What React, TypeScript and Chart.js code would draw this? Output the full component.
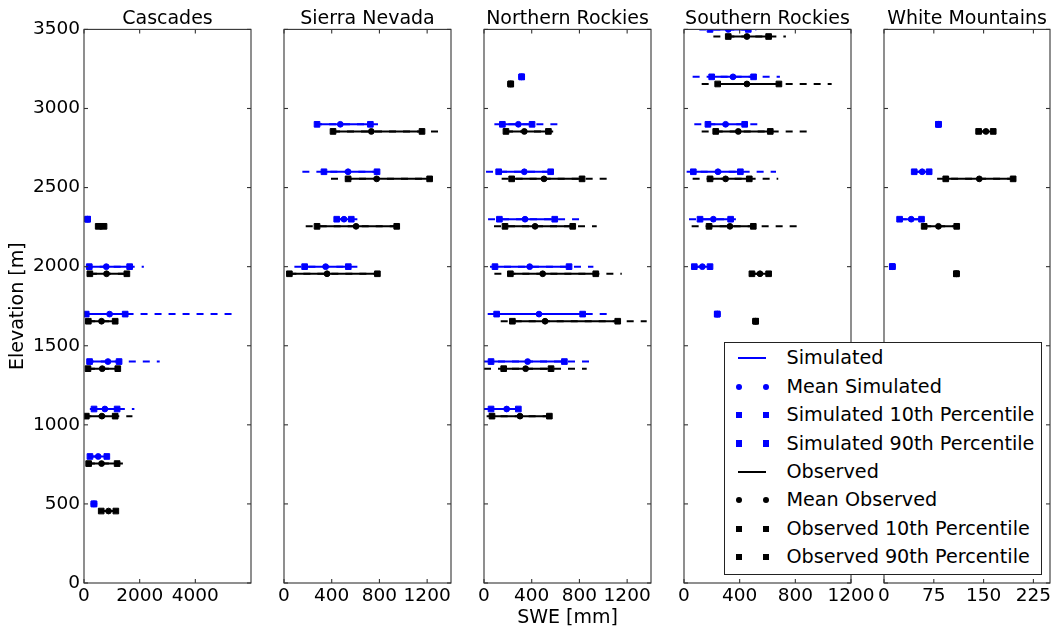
import React, { useEffect, useRef } from 'react';
import { Chart, registerables } from 'chart.js';

Chart.register(...registerables);

const FONT = "'DejaVu Sans', 'Liberation Sans', sans-serif";
Chart.defaults.font.family = FONT;
Chart.defaults.color = '#000';

// Shared vertical axis
const yTicks = [0, 500, 1000, 1500, 2000, 2500, 3000, 3500];
const yMax = 3500;
// observed rows are drawn slightly below their simulated band
const obsOffset = 45;

// Each row: [min, p10, mean, p90, max] SWE (mm)
const cascadesElev = [2300, 2000, 1700, 1400, 1100, 800, 500];
const cascadesSim = [
  [130, 130, 130, 130, 130],
  [60, 190, 800, 1640, 2150],
  [20, 80, 920, 1480, 5400],
  [100, 200, 860, 1260, 2720],
  [210, 360, 750, 1190, 1810],
  [214, 214, 510, 820, 820],
  [357, 357, 357, 357, 357],
];
const cascadesObs = [
  [500, 510, 610, 720, 720],
  [210, 210, 810, 1540, 1540],
  [150, 155, 630, 1120, 1120],
  [140, 143, 655, 1214, 1214],
  [10, 83, 643, 1120, 1740],
  [140, 167, 631, 1190, 1400],
  [619, 619, 881, 1143, 1143],
];
const cascadesXTicks = [0, 2000, 4000];
const cascadesXMax = 6000;

const sierraElev = [2900, 2600, 2300, 2000];
const sierraSim = [
  [260, 277, 472, 724, 827],
  [154, 335, 537, 780, 780],
  [442, 442, 503, 564, 615],
  [87, 173, 349, 539, 673],
];
const sierraObs = [
  [411, 411, 732, 1157, 1300],
  [394, 537, 777, 1221, 1221],
  [182, 277, 604, 945, 945],
  [45, 45, 361, 783, 783],
];
const sierraXTicks = [0, 400, 800, 1200];
const sierraXMax = 1400;

const northElev = [3200, 2900, 2600, 2300, 2000, 1700, 1400, 1100];
const northSim = [
  [316, 316, 316, 316, 316],
  [87, 154, 288, 403, 643],
  [17, 123, 338, 559, 596],
  [34, 129, 344, 593, 833],
  [50, 92, 383, 713, 917],
  [31, 106, 461, 827, 1043],
  [0, 59, 366, 674, 917],
  [0, 59, 190, 288, 288],
];
const northObs = [
  [224, 224, 224, 224, 224],
  [184, 184, 338, 540, 580],
  [148, 232, 503, 822, 1051],
  [84, 176, 428, 744, 945],
  [87, 221, 492, 937, 1155],
  [140, 238, 512, 1121, 1364],
  [0, 165, 349, 562, 861],
  [22, 67, 302, 548, 601],
];
const northXTicks = [0, 400, 800, 1200];
const northXMax = 1400;

const southElev = [3500, 3200, 2900, 2600, 2300, 2000, 1700];
const southSim = [
  [110, 187, 318, 462, 520],
  [62, 199, 352, 500, 689],
  [74, 172, 299, 436, 539],
  [19, 67, 244, 405, 661],
  [36, 115, 211, 335, 373],
  [74, 74, 132, 187, 187],
  [239, 239, 239, 239, 239],
];
const southObs = [
  [211, 318, 452, 608, 732],
  [127, 242, 452, 682, 1061],
  [127, 228, 390, 620, 898],
  [62, 187, 299, 469, 677],
  [55, 180, 330, 498, 833],
  [488, 488, 546, 608, 608],
  [515, 515, 515, 515, 515],
];
const southXTicks = [0, 400, 800, 1200];
const southXMax = 1200;

const whiteElev = [2900, 2600, 2300, 2000];
const whiteSim = [
  [82, 82, 82, 82, 82],
  [45.5, 45.5, 57.5, 68, 68],
  [23.5, 23.5, 41, 56.5, 56.5],
  [12.5, 12.5, 12.5, 12.5, 12.5],
];
const whiteObs = [
  [142.5, 142.5, 153.5, 164.5, 164.5],
  [80, 93, 143.5, 194.5, 202.5],
  [60.5, 60.5, 82, 109.5, 109.5],
  [109, 109, 109, 109, 109],
];
const whiteXTicks = [0, 75, 150, 225];
const whiteXMax = 250;

const legendLabels = [
  'Simulated',
  'Mean Simulated',
  'Simulated 10th Percentile',
  'Simulated 90th Percentile',
  'Observed',
  'Mean Observed',
  'Observed 10th Percentile',
  'Observed 90th Percentile',
];

const panels = [
  { name: 'Cascades', elev: cascadesElev, sim: cascadesSim, obs: cascadesObs, ticks: cascadesXTicks, xMax: cascadesXMax },
  { name: 'Sierra Nevada', elev: sierraElev, sim: sierraSim, obs: sierraObs, ticks: sierraXTicks, xMax: sierraXMax },
  { name: 'Northern Rockies', elev: northElev, sim: northSim, obs: northObs, ticks: northXTicks, xMax: northXMax },
  { name: 'Southern Rockies', elev: southElev, sim: southSim, obs: southObs, ticks: southXTicks, xMax: southXMax },
  { name: 'White Mountains', elev: whiteElev, sim: whiteSim, obs: whiteObs, ticks: whiteXTicks, xMax: whiteXMax },
];

// layout (pixels)
const W = 1055;
const H = 633;
const PANEL_LEFT = [84, 284, 484, 684, 884];
const PANEL_W = 167;
const BLUE = '#0000ff';
const BLACK = '#000000';

type Row = number[];

function buildDatasets(elev: number[], sim: Row[], obs: Row[]) {
  const obsElev = elev.map((e) => e - obsOffset);
  const seg = (rows: Row[], e: number[], a: number, b: number) =>
    rows.flatMap((r, i) => [
      { x: r[a], y: e[i] },
      { x: r[b], y: e[i] },
      { x: NaN, y: NaN },
    ]);
  const pts = (rows: Row[], e: number[], k: number) => rows.map((r, i) => ({ x: r[k], y: e[i] }));
  const lineDs = (label: string, data: any[], color: string, dash: number[], order: number) => ({
    label,
    data,
    showLine: true,
    borderColor: color,
    backgroundColor: color,
    borderWidth: 2,
    borderDash: dash,
    pointRadius: 0,
    spanGaps: false,
    order,
    clip: 0,
  });
  const ptDs = (label: string, data: any[], color: string, style: string, r: number, order: number) => ({
    label,
    data,
    showLine: false,
    pointStyle: style,
    pointRadius: r,
    pointBackgroundColor: color,
    pointBorderColor: color,
    pointBorderWidth: 1,
    order,
    clip: 0,
  });
  return [
    lineDs('Simulated extremes', seg(sim, elev, 0, 4), BLUE, [7, 7], 6),
    lineDs('Observed extremes', seg(obs, obsElev, 0, 4), BLACK, [7, 7], 5),
    lineDs('Simulated', seg(sim, elev, 1, 3), BLUE, [], 4),
    lineDs('Observed', seg(obs, obsElev, 1, 3), BLACK, [], 3),
    ptDs('Mean Simulated', pts(sim, elev, 2), BLUE, 'circle', 2.9, 2),
    ptDs('Simulated 10th Percentile', pts(sim, elev, 1), BLUE, 'rect', 4, 2),
    ptDs('Simulated 90th Percentile', pts(sim, elev, 3), BLUE, 'rect', 4, 2),
    ptDs('Mean Observed', pts(obs, obsElev, 2), BLACK, 'circle', 2.9, 1),
    ptDs('Observed 10th Percentile', pts(obs, obsElev, 1), BLACK, 'rect', 4, 1),
    ptDs('Observed 90th Percentile', pts(obs, obsElev, 3), BLACK, 'rect', 4, 1),
  ];
}

const framePlugin = {
  id: 'mplFrame',
  afterDraw(chart: any, _args: any, opts: any) {
    const { ctx, chartArea } = chart;
    const { left, right, top, bottom } = chartArea;
    const xs = chart.scales.x;
    const ys = chart.scales.y;
    ctx.save();
    ctx.strokeStyle = '#333';
    ctx.lineWidth = 1.1;
    const line = (x1: number, y1: number, x2: number, y2: number) => {
      ctx.beginPath();
      ctx.moveTo(x1, y1);
      ctx.lineTo(x2, y2);
      ctx.stroke();
    };
    const tl = 4;
    (opts.xTicks || []).forEach((v: number) => {
      const px = xs.getPixelForValue(v);
      line(px, bottom, px, bottom - tl);
      line(px, top, px, top + tl);
    });
    yTicks.forEach((v) => {
      const py = ys.getPixelForValue(v);
      line(left, py, left + tl, py);
      line(right, py, right - tl, py);
    });
    ctx.strokeRect(left, top, right - left, bottom - top);
    ctx.restore();
  },
};

function Panel({ idx }: { idx: number }) {
  const ref = useRef<HTMLCanvasElement>(null);
  useEffect(() => {
    const p = panels[idx];
    const L = PANEL_LEFT[idx];
    const first = idx === 0;
    const chart = new Chart(ref.current as HTMLCanvasElement, {
      type: 'scatter',
      data: { datasets: buildDatasets(p.elev, p.sim, p.obs) as any },
      plugins: [framePlugin],
      options: {
        animation: false,
        responsive: false,
        events: [],
        devicePixelRatio: 1,
        layout: {
          padding: { left: first ? 0 : L, right: W - (L + PANEL_W), top: 0, bottom: 0 },
        },
        plugins: {
          legend: { display: false },
          tooltip: { enabled: false },
          title: {
            display: true,
            text: p.name,
            fullSize: false,
            color: '#000',
            font: { size: 19, lineHeight: 1, weight: 'normal', family: FONT },
            padding: { top: 10, bottom: 0.4 },
          },
          mplFrame: { xTicks: p.ticks },
        } as any,
        scales: {
          x: {
            type: 'linear',
            min: 0,
            max: p.xMax,
            afterBuildTicks: (s: any) => {
              s.ticks = p.ticks.map((v) => ({ value: v }));
            },
            afterFit: (s: any) => {
              s.height = 50;
            },
            grid: { display: false, drawTicks: false },
            border: { display: false },
            ticks: {
              autoSkip: false,
              maxRotation: 0,
              padding: 2,
              color: '#000',
              font: { size: 18.5, family: FONT },
              callback: (v: any) => String(v),
            },
            title: {
              display: idx === 2,
              text: 'SWE [mm]',
              color: '#000',
              font: { size: 19, family: FONT },
              padding: { top: 0, bottom: 4 },
            },
          },
          y: {
            type: 'linear',
            min: 0,
            max: yMax,
            afterBuildTicks: (s: any) => {
              s.ticks = yTicks.map((v) => ({ value: v }));
            },
            afterFit: (s: any) => {
              s.width = first ? L : 0;
            },
            grid: { display: false, drawTicks: false },
            border: { display: false },
            ticks: {
              display: first,
              autoSkip: false,
              padding: 4,
              color: '#000',
              font: { size: 18.5, family: FONT },
              callback: (v: any) => String(v),
            },
            title: {
              display: first,
              text: 'Elevation [m]',
              color: '#000',
              font: { size: 19, family: FONT },
              padding: { top: 6.4, bottom: 0 },
            },
          },
        },
      } as any,
    });
    return () => chart.destroy();
  }, [idx]);
  return (
    <canvas
      ref={ref}
      width={W}
      height={H}
      style={{ position: 'absolute', left: 0, top: 0, width: W, height: H }}
    />
  );
}

function LegendSymbol({ i }: { i: number }) {
  const color = i < 4 ? BLUE : BLACK;
  const kind = i % 4;
  if (kind === 0) {
    return <div style={{ position: 'absolute', left: 13, top: -1, width: 28, height: 2, background: color }} />;
  }
  const round = kind === 1;
  const size = round ? 6 : 6.5;
  const mk = (cx: number) => (
    <div
      key={cx}
      style={{
        position: 'absolute',
        left: cx - size / 2,
        top: -size / 2,
        width: size,
        height: size,
        background: color,
        borderRadius: round ? '50%' : 0,
      }}
    />
  );
  return (
    <>
      {mk(14)}
      {mk(41)}
    </>
  );
}

function Legend() {
  return (
    <div
      style={{
        position: 'absolute',
        left: 724,
        top: 342,
        width: 318,
        height: 233,
        boxSizing: 'border-box',
        border: '1.2px solid #222',
        background: '#fff',
        fontFamily: FONT,
        fontSize: 19.2,
        color: '#000',
      }}
    >
      {legendLabels.map((lab, i) => (
        <div key={lab} style={{ position: 'absolute', left: 0, top: 15.4 + i * 28.4, width: '100%', height: 0 }}>
          <LegendSymbol i={i} />
          <div
            style={{
              position: 'absolute',
              left: 61.5,
              top: -12,
              height: 24,
              lineHeight: '24px',
              whiteSpace: 'nowrap',
            }}
          >
            {lab}
          </div>
        </div>
      ))}
    </div>
  );
}

export default function App() {
  return (
    <div style={{ position: 'fixed', left: 0, top: 0, width: W, height: H, background: '#fff', overflow: 'hidden' }}>
      {panels.map((_, i) => (
        <Panel key={i} idx={i} />
      ))}
      <Legend />
    </div>
  );
}
